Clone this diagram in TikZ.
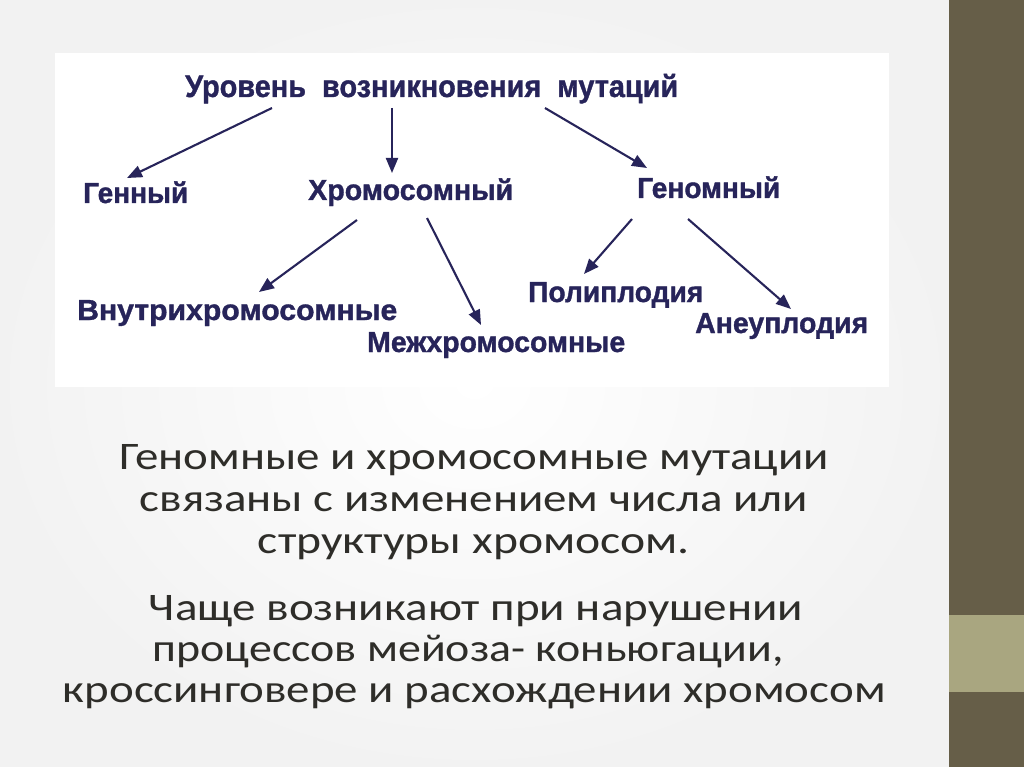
\documentclass[tikz,border=0pt]{standalone}
\usepackage{fontspec}
\setmainfont{Carlito}
\newfontfamily\labfont[BoldFeatures={FakeBold=1.2}]{Liberation Sans}
\usetikzlibrary{arrows.meta}
\definecolor{navy}{HTML}{27245A}
\definecolor{textgray}{HTML}{2E2D29}
\definecolor{stripdark}{HTML}{665E48}
\definecolor{stripmid}{HTML}{A9A680}
% stretch a text to a given width, height unchanged
\newcommand{\fitto}[2]{\resizebox{#1}{\height}{#2}}

\begin{document}
\begin{tikzpicture}[x=1pt,y=-1pt,
  lab/.style={anchor=base west, inner sep=0pt, text=navy,
    font=\labfont\bfseries\fontsize{29}{32}\selectfont},
  note/.style={anchor=base, inner sep=0pt, text=textgray,
    font=\fontsize{39}{42}\selectfont},
  arr/.style={navy, line width=2.1pt, -{Triangle[length=15pt,width=12pt]}}]
\useasboundingbox (0,0) rectangle (1024,767);
% slide background
\shade[inner color=white, middle color=white, outer color=black!5] (0,0) rectangle (949,767);
\fill[white] (55,53) rectangle (889,387);
\fill[stripdark] (949,0) rectangle (1024,767);
\fill[stripmid] (949,615) rectangle (1024,692);

% diagram
\node[lab, font=\labfont\bfseries\fontsize{31}{34}\selectfont] (title) at (185,97)
  {\fitto{493pt}{Уровень\ \ возникновения\ \ мутаций}};
\node[lab] (gen) at (83,203) {\fitto{105pt}{Генный}};
\node[lab] (chrom) at (308,200) {\fitto{205pt}{Хромосомный}};
\node[lab] (genom) at (637,198) {\fitto{143pt}{Геномный}};
\node[lab] (intra) at (77,320) {\fitto{320pt}{Внутрихромосомные}};
\node[lab] (inter) at (367,352) {\fitto{258pt}{Межхромосомные}};
\node[lab] (poly) at (528,302) {\fitto{175pt}{Полиплодия}};
\node[lab] (aneu) at (695,333) {\fitto{173pt}{Анеуплодия}};

\draw[arr] ([shift={(87,11)}]title.base west) -- ([shift={(44,-25)}]gen.base west);
\draw[arr] ([shift={(207,11)}]title.base west) -- ([shift={(84,-27)}]chrom.base west);
\draw[arr] ([shift={(360,11)}]title.base west) -- ([shift={(10,-30)}]genom.base west);
\draw[arr] ([shift={(49,20)}]chrom.base west) -- ([shift={(182,-28)}]intra.base west);
\draw[arr] ([shift={(119,18)}]chrom.base west) -- ([shift={(114,-27)}]inter.base west);
\draw[arr] ([shift={(-5,21)}]genom.base west) -- ([shift={(56,-28)}]poly.base west);
\draw[arr] ([shift={(51,21)}]genom.base west) -- ([shift={(96,-24)}]aneu.base west);

% text below
\node[note] (l1) at (474.5,469) {\fitto{709pt}{Геномные и хромосомные мутации}};
\node[note] (l2) at (474,511) {\fitto{668pt}{связаны с изменением числа или}};
\node[note] (l3) at (474,553) {\fitto{432pt}{структуры хромосом.}};
\node[note] (l4) at (476,620) {\fitto{654pt}{Чаще возникают при нарушении}};
\node[note] (l5) at (468,661) {\fitto{631pt}{процессов мейоза- коньюгации,}};
\node[note] (l6) at (474.5,702) {\fitto{823pt}{кроссинговере и расхождении хромосом}};
\end{tikzpicture}
\end{document}
